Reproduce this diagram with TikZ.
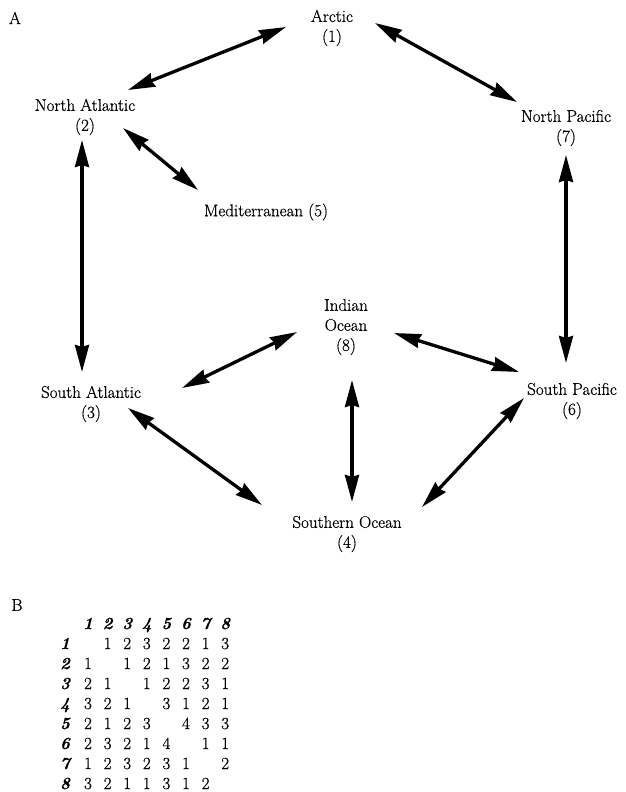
\documentclass[tikz,border=0pt]{standalone}
\usepackage{fontspec}
\setmainfont{Latin Modern Roman}[UprightFeatures={FakeBold=0.6},BoldItalicFeatures={FakeBold=0.3}]
\usetikzlibrary{arrows.meta,calc}
\tikzset{
  lbl/.style={align=center,inner sep=0pt,font=\fontsize{17}{20}\selectfont},
  cell/.style={anchor=base,inner sep=0pt,font=\fontsize{17}{20}\selectfont},
  hcell/.style={cell,font=\fontsize{17}{20}\selectfont\bfseries\itshape},
  arr/.style={line width=3.3pt,{Stealth[length=27pt,width=14pt,inset=2pt]}-{Stealth[length=27pt,width=14pt,inset=2pt]}},
}
\begin{document}
\begin{tikzpicture}[x=1pt,y=-1pt]
\useasboundingbox (0,0) rectangle (625,792);
% panel labels
\node[lbl] (pa) at (15,18) {A};
\node[lbl] (pb) at (17,605) {B};
% ocean nodes
\node[lbl] (arctic) at (332,28) {Arctic\\(1)};
\node[lbl] (natl) at (85,117) {North Atlantic\\(2)};
\node[lbl] (npac) at (566,128) {North Pacific\\(7)};
\node[lbl] (med) at (266,212) {Mediterranean (5)};
\node[lbl] (ind) at (346,327) {Indian\\Ocean\\(8)};
\node[lbl] (satl) at (91,404) {South Atlantic\\(3)};
\node[lbl] (spac) at (572,401) {South Pacific\\(6)};
\node[lbl] (sou) at (347,534) {Southern Ocean\\(4)};
% connectors
\draw[arr] ($(arctic)+(-46,-1)$) -- ($(natl)+(43,-27)$);
\draw[arr] ($(arctic)+(43,-5)$) -- ($(npac)+(-49,-26)$);
\draw[arr] ($(natl)+(38,11)$) -- ($(med)+(-68,-22)$);
\draw[arr] ($(natl)+(-3,23)$) -- ($(satl)+(-9,-32)$);
\draw[arr] ($(npac)+(0,27)$) -- ($(spac)+(-6,-38)$);
\draw[arr] ($(ind)+(-49,5)$) -- ($(satl)+(91,-16)$);
\draw[arr] ($(ind)+(48,6)$) -- ($(spac)+(-53,-29)$);
\draw[arr] ($(ind)+(6,53)$) -- ($(sou)+(5,-32)$);
\draw[arr] ($(satl)+(37,4)$) -- ($(sou)+(-85,-29)$);
\draw[arr] ($(spac)+(-48,-3)$) -- ($(sou)+(75,-27)$);
% matrix header
\foreach \j in {1,...,8} {
  \node[hcell] (h\j) at ({88+19.6*(\j-1)},629) {\j};
  \node[hcell] (r\j) at (65,{649+20*(\j-1)}) {\j};
}
% matrix body
\foreach \row [count=\i] in {
  {{},1,2,3,2,2,1,3},
  {1,{},1,2,1,3,2,2},
  {2,1,{},1,2,2,3,1},
  {3,2,1,{},3,1,2,1},
  {2,1,2,3,{},4,3,3},
  {2,3,2,1,4,{},1,1},
  {1,2,3,2,3,1,{},2},
  {3,2,1,1,3,1,2,{}}} {
  \foreach \v [count=\j] in \row {
    \node[cell] (c\i-\j) at ({88+19.6*(\j-1)},{649+20*(\i-1)}) {\v};
  }
}
\end{tikzpicture}
\end{document}
